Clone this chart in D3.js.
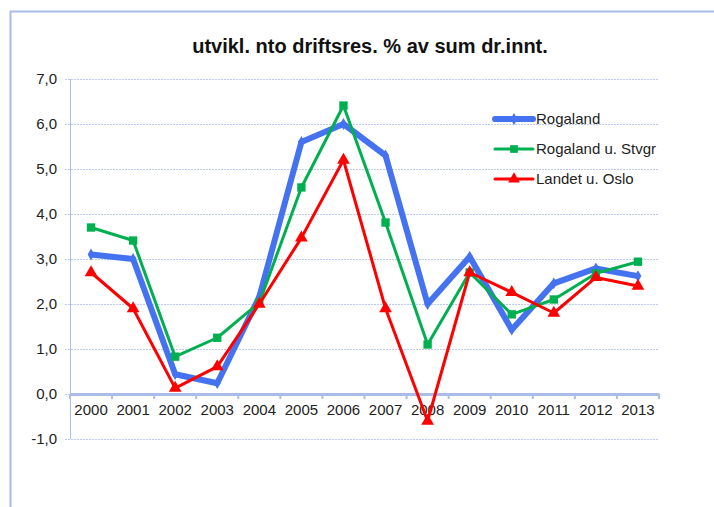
<!DOCTYPE html>
<html>
<head>
<meta charset="utf-8">
<script src="https://cdn.jsdelivr.net/npm/d3@7"></script>
<style>
  body { margin: 0; background: #fff; }
  svg { display: block; font-family: "Liberation Sans", Arial, sans-serif; }
</style>
</head>
<body>
<svg id="chart" width="714" height="507"></svg>
<script>
// data
const years = ['2000','2001','2002','2003','2004','2005','2006','2007','2008','2009','2010','2011','2012','2013'];
const rogaland = [3.1, 3.0, 0.44, 0.24, 2.16, 5.6, 6.0, 5.3, 2.0, 3.05, 1.43, 2.46, 2.79, 2.62];
const rogalandUStvgr = [3.7, 3.41, 0.83, 1.25, 2.03, 4.59, 6.41, 3.81, 1.1, 2.7, 1.77, 2.1, 2.68, 2.94];
const landetUOslo = [2.7, 1.9, 0.13, 0.61, 2.0, 3.47, 5.2, 1.9, -0.6, 2.7, 2.26, 1.8, 2.59, 2.4];
const yTicks = [-1, 0, 1, 2, 3, 4, 5, 6, 7];

const series = [
  { name: 'Rogaland', values: rogaland, color: '#4472f0', width: 6, marker: 'diamond' },
  { name: 'Rogaland u. Stvgr', values: rogalandUStvgr, color: '#00b050', width: 3, marker: 'square' },
  { name: 'Landet u. Oslo', values: landetUOslo, color: '#ff0000', width: 3, marker: 'triangle' }
];

const svg = d3.select('#chart');
const axisColor = '#a9bde8';

// outer frame
svg.append('path')
  .attr('d', 'M10.5,507 L10.5,11.5 L714,11.5')
  .attr('fill', 'none')
  .attr('stroke', axisColor)
  .attr('stroke-width', 2);

// title
svg.append('text')
  .attr('x', 370)
  .attr('y', 53)
  .attr('text-anchor', 'middle')
  .attr('font-size', '20px')
  .attr('font-weight', 'bold')
  .attr('fill', '#111')
  .text('utvikl. nto driftsres. % av sum dr.innt.');

const x = d3.scaleBand().domain(years).range([70, 659]);
const y = d3.scaleLinear().domain([-1, 7]).range([439, 79]);

// gridlines
svg.append('g')
  .selectAll('line')
  .data(yTicks)
  .join('line')
  .attr('x1', 65)
  .attr('x2', 659)
  .attr('y1', d => Math.round(y(d)) + 0.5)
  .attr('y2', d => Math.round(y(d)) + 0.5)
  .attr('stroke', '#bccbef')
  .attr('stroke-dasharray', '2,1');

// y axis line
svg.append('line')
  .attr('x1', 70.5).attr('x2', 70.5)
  .attr('y1', y(7)).attr('y2', y(-1))
  .attr('stroke', axisColor)
  .attr('stroke-width', 1);

// y labels
svg.append('g')
  .selectAll('text')
  .data(yTicks)
  .join('text')
  .attr('x', 57)
  .attr('y', d => y(d) + 5)
  .attr('text-anchor', 'end')
  .attr('font-size', '15px')
  .attr('fill', '#222')
  .text(d => d3.format('.1f')(d).replace('.', ',').replace('−', '-'));

// x axis at zero
const xAxis = d3.axisBottom(x).tickSize(0).tickPadding(10);
const xg = svg.append('g')
  .attr('transform', `translate(0,${y(0)})`)
  .call(xAxis);
xg.select('.domain').attr('stroke', axisColor).attr('stroke-width', 3);
xg.selectAll('text')
  .attr('font-size', '15px')
  .attr('font-family', '"Liberation Sans", Arial, sans-serif')
  .attr('fill', '#222');

// category boundary ticks
svg.append('g')
  .selectAll('line')
  .data(years.concat(['end']))
  .join('line')
  .attr('x1', (d, i) => x.range()[0] + i * x.step())
  .attr('x2', (d, i) => x.range()[0] + i * x.step())
  .attr('y1', y(0))
  .attr('y2', y(0) + 5)
  .attr('stroke', axisColor)
  .attr('stroke-width', 2);

const line = d3.line()
  .x((d, i) => x(years[i]) + x.bandwidth() / 2)
  .y(d => y(d));

function markerPath(type, size) {
  if (type === 'square') return d3.symbol(d3.symbolSquare, size)();
  if (type === 'triangle') return d3.symbol(d3.symbolTriangle, size)();
  return d3.symbol(d3.symbolDiamond, size)();
}

series.forEach(s => {
  const g = svg.append('g');
  g.append('path')
    .datum(s.values)
    .attr('d', line)
    .attr('fill', 'none')
    .attr('stroke', s.color)
    .attr('stroke-width', s.width)
    .attr('stroke-linejoin', 'round');
  g.selectAll('path.pt')
    .data(s.values)
    .join('path')
    .attr('class', 'pt')
    .attr('transform', (d, i) => `translate(${x(years[i]) + x.bandwidth() / 2},${y(d)})`)
    .attr('d', markerPath(s.marker, s.marker === 'diamond' ? 40 : 70))
    .attr('fill', s.color);
});

// legend
const legend = svg.append('g');
series.forEach((s, i) => {
  const ly = 119 + i * 30;
  legend.append('line')
    .attr('x1', 495).attr('x2', 533)
    .attr('y1', ly).attr('y2', ly)
    .attr('stroke', s.color)
    .attr('stroke-width', s.width)
    .attr('stroke-linecap', 'round');
  legend.append('path')
    .attr('transform', `translate(514,${ly})`)
    .attr('d', markerPath(s.marker, s.marker === 'diamond' ? 40 : 60))
    .attr('fill', s.color);
  legend.append('text')
    .attr('x', 536)
    .attr('y', ly + 5)
    .attr('font-size', '15px')
    .attr('fill', '#222')
    .text(s.name);
});
</script>
</body>
</html>
